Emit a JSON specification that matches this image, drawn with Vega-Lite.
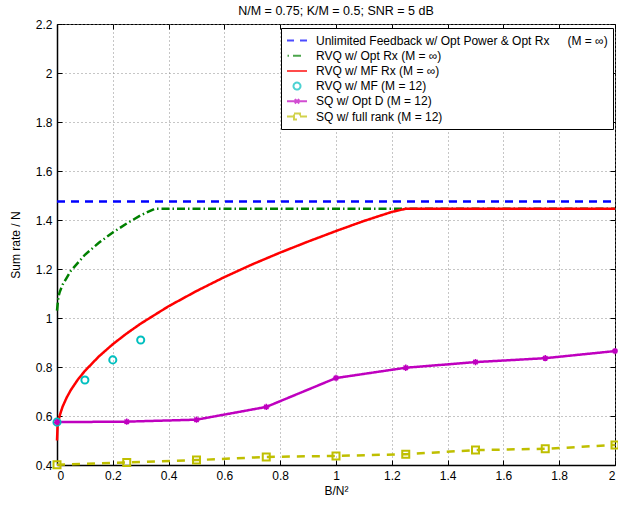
{
  "$schema": "https://vega.github.io/schema/vega-lite/v6.json",
  "width": 558,
  "height": 441,
  "autosize": {"type": "none"},
  "padding": {"left": 57, "top": 24, "right": 3, "bottom": 48},
  "background": "white",
  "title": {"text": "N/M = 0.75; K/M = 0.5; SNR = 5 dB", "font": "Liberation Sans", "fontSize": 12.5, "fontWeight": "normal", "color": "black", "offset": 1},
  "config": {
    "font": "Liberation Sans",
    "view": {"stroke": "black", "strokeWidth": 1},
    "axis": {
      "labelFont": "Liberation Sans", "labelFontSize": 12, "labelColor": "black",
      "titleFont": "Liberation Sans", "titleFontSize": 12, "titleFontWeight": "normal", "titleColor": "black",
      "domainColor": "black", "domainWidth": 1.5, "tickColor": "black", "tickSize": -5, "tickWidth": 1,
      "gridColor": "#8c8c8c", "gridDash": [1, 3], "gridOpacity": 1, "gridWidth": 1
    },
    "legend": {
      "orient": "none", "legendX": 224, "legendY": 4,
      "strokeColor": "black", "fillColor": "white", "padding": 5,
      "labelFont": "Liberation Sans", "labelFontSize": 12, "labelColor": "black", "labelLimit": 500,
      "symbolSize": 400, "symbolStrokeWidth": 2, "symbolFillColor": "transparent",
      "clipHeight": 15, "rowPadding": 0.2, "labelOffset": 8
    }
  },
  "datasets": {
    "rows": [
      {"s": "Unlimited Feedback w/ Opt Power & Opt Rx (M = ∞)", "b": 0, "rate": 1.476},
      {"s": "Unlimited Feedback w/ Opt Power & Opt Rx (M = ∞)", "b": 2, "rate": 1.476},
      {"s": "RVQ w/ Opt Rx (M = ∞)", "b": 0, "rate": 1.03},
      {"s": "RVQ w/ Opt Rx (M = ∞)", "b": 0.005, "rate": 1.086},
      {"s": "RVQ w/ Opt Rx (M = ∞)", "b": 0.01, "rate": 1.107},
      {"s": "RVQ w/ Opt Rx (M = ∞)", "b": 0.02, "rate": 1.136},
      {"s": "RVQ w/ Opt Rx (M = ∞)", "b": 0.05, "rate": 1.193},
      {"s": "RVQ w/ Opt Rx (M = ∞)", "b": 0.1, "rate": 1.258},
      {"s": "RVQ w/ Opt Rx (M = ∞)", "b": 0.15, "rate": 1.307},
      {"s": "RVQ w/ Opt Rx (M = ∞)", "b": 0.2, "rate": 1.349},
      {"s": "RVQ w/ Opt Rx (M = ∞)", "b": 0.25, "rate": 1.386},
      {"s": "RVQ w/ Opt Rx (M = ∞)", "b": 0.3, "rate": 1.419},
      {"s": "RVQ w/ Opt Rx (M = ∞)", "b": 0.35, "rate": 1.446},
      {"s": "RVQ w/ Opt Rx (M = ∞)", "b": 2, "rate": 1.446},
      {"s": "RVQ w/ MF Rx (M = ∞)", "b": 0, "rate": 0.5},
      {"s": "RVQ w/ MF Rx (M = ∞)", "b": 0.002, "rate": 0.555},
      {"s": "RVQ w/ MF Rx (M = ∞)", "b": 0.005, "rate": 0.578},
      {"s": "RVQ w/ MF Rx (M = ∞)", "b": 0.01, "rate": 0.603},
      {"s": "RVQ w/ MF Rx (M = ∞)", "b": 0.02, "rate": 0.638},
      {"s": "RVQ w/ MF Rx (M = ∞)", "b": 0.035, "rate": 0.676},
      {"s": "RVQ w/ MF Rx (M = ∞)", "b": 0.05, "rate": 0.707},
      {"s": "RVQ w/ MF Rx (M = ∞)", "b": 0.075, "rate": 0.749},
      {"s": "RVQ w/ MF Rx (M = ∞)", "b": 0.1, "rate": 0.784},
      {"s": "RVQ w/ MF Rx (M = ∞)", "b": 0.15, "rate": 0.843},
      {"s": "RVQ w/ MF Rx (M = ∞)", "b": 0.2, "rate": 0.893},
      {"s": "RVQ w/ MF Rx (M = ∞)", "b": 0.25, "rate": 0.937},
      {"s": "RVQ w/ MF Rx (M = ∞)", "b": 0.3, "rate": 0.977},
      {"s": "RVQ w/ MF Rx (M = ∞)", "b": 0.4, "rate": 1.048},
      {"s": "RVQ w/ MF Rx (M = ∞)", "b": 0.5, "rate": 1.11},
      {"s": "RVQ w/ MF Rx (M = ∞)", "b": 0.6, "rate": 1.167},
      {"s": "RVQ w/ MF Rx (M = ∞)", "b": 0.7, "rate": 1.219},
      {"s": "RVQ w/ MF Rx (M = ∞)", "b": 0.8, "rate": 1.267},
      {"s": "RVQ w/ MF Rx (M = ∞)", "b": 0.9, "rate": 1.312},
      {"s": "RVQ w/ MF Rx (M = ∞)", "b": 1.0, "rate": 1.355},
      {"s": "RVQ w/ MF Rx (M = ∞)", "b": 1.1, "rate": 1.396},
      {"s": "RVQ w/ MF Rx (M = ∞)", "b": 1.2, "rate": 1.433},
      {"s": "RVQ w/ MF Rx (M = ∞)", "b": 1.25, "rate": 1.446},
      {"s": "RVQ w/ MF Rx (M = ∞)", "b": 2, "rate": 1.446},
      {"s": "RVQ w/ MF (M = 12)", "b": 0, "rate": 0.575},
      {"s": "RVQ w/ MF (M = 12)", "b": 0.1, "rate": 0.747},
      {"s": "RVQ w/ MF (M = 12)", "b": 0.2, "rate": 0.829},
      {"s": "RVQ w/ MF (M = 12)", "b": 0.3, "rate": 0.91},
      {"s": "SQ w/ Opt D (M = 12)", "b": 0, "rate": 0.575},
      {"s": "SQ w/ Opt D (M = 12)", "b": 0.25, "rate": 0.577},
      {"s": "SQ w/ Opt D (M = 12)", "b": 0.5, "rate": 0.585},
      {"s": "SQ w/ Opt D (M = 12)", "b": 0.75, "rate": 0.637},
      {"s": "SQ w/ Opt D (M = 12)", "b": 1.0, "rate": 0.755},
      {"s": "SQ w/ Opt D (M = 12)", "b": 1.25, "rate": 0.797},
      {"s": "SQ w/ Opt D (M = 12)", "b": 1.5, "rate": 0.82},
      {"s": "SQ w/ Opt D (M = 12)", "b": 1.75, "rate": 0.836},
      {"s": "SQ w/ Opt D (M = 12)", "b": 2.0, "rate": 0.865},
      {"s": "SQ w/ full rank (M = 12)", "b": 0, "rate": 0.401},
      {"s": "SQ w/ full rank (M = 12)", "b": 0.25, "rate": 0.41},
      {"s": "SQ w/ full rank (M = 12)", "b": 0.5, "rate": 0.42},
      {"s": "SQ w/ full rank (M = 12)", "b": 0.75, "rate": 0.433},
      {"s": "SQ w/ full rank (M = 12)", "b": 1.0, "rate": 0.437},
      {"s": "SQ w/ full rank (M = 12)", "b": 1.25, "rate": 0.444},
      {"s": "SQ w/ full rank (M = 12)", "b": 1.5, "rate": 0.461},
      {"s": "SQ w/ full rank (M = 12)", "b": 1.75, "rate": 0.466},
      {"s": "SQ w/ full rank (M = 12)", "b": 2.0, "rate": 0.482}
    ]
  },
  "data": {"name": "rows"},
  "layer": [
    {
      "transform": [{"filter": "datum.s !== 'RVQ w/ MF (M = 12)'"}],
      "mark": {"type": "line", "strokeWidth": 2.5, "strokeCap": "butt"},
      "encoding": {
        "x": {"field": "b", "type": "quantitative", "scale": {"domain": [0, 2], "nice": false, "zero": false},
              "axis": {"title": "B/N²", "values": [0, 0.2, 0.4, 0.6, 0.8, 1, 1.2, 1.4, 1.6, 1.8, 2], "format": "~g", "labelPadding": 10, "titlePadding": 4, "grid": true}},
        "y": {"field": "rate", "type": "quantitative", "scale": {"domain": [0.4, 2.2], "nice": false, "zero": false},
              "axis": {"title": "Sum rate / N", "values": [0.4, 0.6, 0.8, 1, 1.2, 1.4, 1.6, 1.8, 2, 2.2], "format": "~g", "labelPadding": 10, "titlePadding": 13, "grid": true}},
        "color": {"field": "s", "type": "nominal",
                  "scale": {"domain": ["Unlimited Feedback w/ Opt Power & Opt Rx (M = ∞)", "RVQ w/ Opt Rx (M = ∞)", "RVQ w/ MF Rx (M = ∞)", "RVQ w/ MF (M = 12)", "SQ w/ Opt D (M = 12)", "SQ w/ full rank (M = 12)"],
                            "range": ["#0000ff", "#008000", "#ff0000", "#00bfbf", "#bf00bf", "#bfbf00"]},
                  "legend": {"title": null, "labelFontSize": 12, "labelExpr": "replace(datum.label, 'Power & Opt Rx (M = ∞)', 'Power & Opt Rx\u2003\u2002(M = ∞)')"}},
        "strokeDash": {"field": "s", "type": "nominal",
                  "scale": {"domain": ["Unlimited Feedback w/ Opt Power & Opt Rx (M = ∞)", "RVQ w/ Opt Rx (M = ∞)", "RVQ w/ MF Rx (M = ∞)", "RVQ w/ MF (M = 12)", "SQ w/ Opt D (M = 12)", "SQ w/ full rank (M = 12)"],
                            "range": [[8, 6], [8, 3, 1.5, 3], [1, 0], [1, 0], [1, 0], [8, 7]]},
                  "legend": null}
      }
    },
    {
      "transform": [{"filter": "datum.b < -1"}],
      "mark": {"type": "point", "filled": false, "strokeWidth": 2},
      "encoding": {
        "x": {"field": "b", "type": "quantitative", "scale": {"domain": [0, 2], "nice": false, "zero": false},
              "axis": {"orient": "top", "title": null, "labels": false, "grid": false, "domain": false, "values": [0, 0.2, 0.4, 0.6, 0.8, 1, 1.2, 1.4, 1.6, 1.8, 2]}},
        "y": {"field": "rate", "type": "quantitative", "scale": {"domain": [0.4, 2.2], "nice": false, "zero": false},
              "axis": {"orient": "right", "title": null, "labels": false, "grid": false, "domain": false, "values": [0.4, 0.6, 0.8, 1, 1.2, 1.4, 1.6, 1.8, 2, 2.2]}},
        "color": {"field": "s", "type": "nominal",
                  "scale": {"domain": ["Unlimited Feedback w/ Opt Power & Opt Rx (M = ∞)", "RVQ w/ Opt Rx (M = ∞)", "RVQ w/ MF Rx (M = ∞)", "RVQ w/ MF (M = 12)", "SQ w/ Opt D (M = 12)", "SQ w/ full rank (M = 12)"],
                            "range": ["#0000ff", "#008000", "#ff0000", "#00bfbf", "#bf00bf", "#bfbf00"]},
                  "legend": {"title": null, "labelFontSize": 12, "labelExpr": "replace(datum.label, 'Power & Opt Rx (M = ∞)', 'Power & Opt Rx\u2003\u2002(M = ∞)')"}},
        "shape": {"field": "s", "type": "nominal",
                  "scale": {"domain": ["Unlimited Feedback w/ Opt Power & Opt Rx (M = ∞)", "RVQ w/ Opt Rx (M = ∞)", "RVQ w/ MF Rx (M = ∞)", "RVQ w/ MF (M = 12)", "SQ w/ Opt D (M = 12)", "SQ w/ full rank (M = 12)"],
                            "range": ["M-1,0H-0.3M0.3,0H1", "M-0.95,0H-0.8M-0.4,0H0.45", "M-1,0H1", "M0.35,0A0.35,0.35 0 1,1 -0.35,0A0.35,0.35 0 1,1 0.35,0Z", "M-1,0H1M-0.22,-0.22L0.22,0.22M-0.22,0.22L0.22,-0.22", "M-1,0H-0.3M0.3,0H1M-0.3,-0.3H0.3V0.3H-0.3Z"]},
                  "legend": {"title": null, "labelFontSize": 12, "labelExpr": "replace(datum.label, 'Power & Opt Rx (M = ∞)', 'Power & Opt Rx\u2003\u2002(M = ∞)')"}}
      }
    },
    {
      "transform": [{"filter": "datum.s === 'RVQ w/ MF (M = 12)'"}],
      "mark": {"type": "point", "shape": "circle", "filled": false, "size": 50, "strokeWidth": 2, "opacity": 1},
      "encoding": {
        "x": {"field": "b", "type": "quantitative", "axis": null},
        "y": {"field": "rate", "type": "quantitative", "axis": null},
        "color": {"field": "s", "type": "nominal", "legend": null}
      }
    },
    {
      "transform": [{"filter": "datum.s === 'SQ w/ Opt D (M = 12)'"}],
      "mark": {"type": "point", "shape": "M-1,0H1M0,-1V1M-0.7,-0.7L0.7,0.7M-0.7,0.7L0.7,-0.7", "filled": false, "size": 40, "strokeWidth": 1.5, "opacity": 1},
      "encoding": {
        "x": {"field": "b", "type": "quantitative", "axis": null},
        "y": {"field": "rate", "type": "quantitative", "axis": null},
        "color": {"field": "s", "type": "nominal", "legend": null}
      }
    },
    {
      "transform": [{"filter": "datum.s === 'SQ w/ full rank (M = 12)'"}],
      "mark": {"type": "point", "shape": "square", "filled": false, "size": 49, "strokeWidth": 2, "opacity": 1},
      "encoding": {
        "x": {"field": "b", "type": "quantitative", "axis": null},
        "y": {"field": "rate", "type": "quantitative", "axis": null},
        "color": {"field": "s", "type": "nominal", "legend": null}
      }
    }
  ],
  "resolve": {"axis": {"x": "independent", "y": "independent"}}
}
